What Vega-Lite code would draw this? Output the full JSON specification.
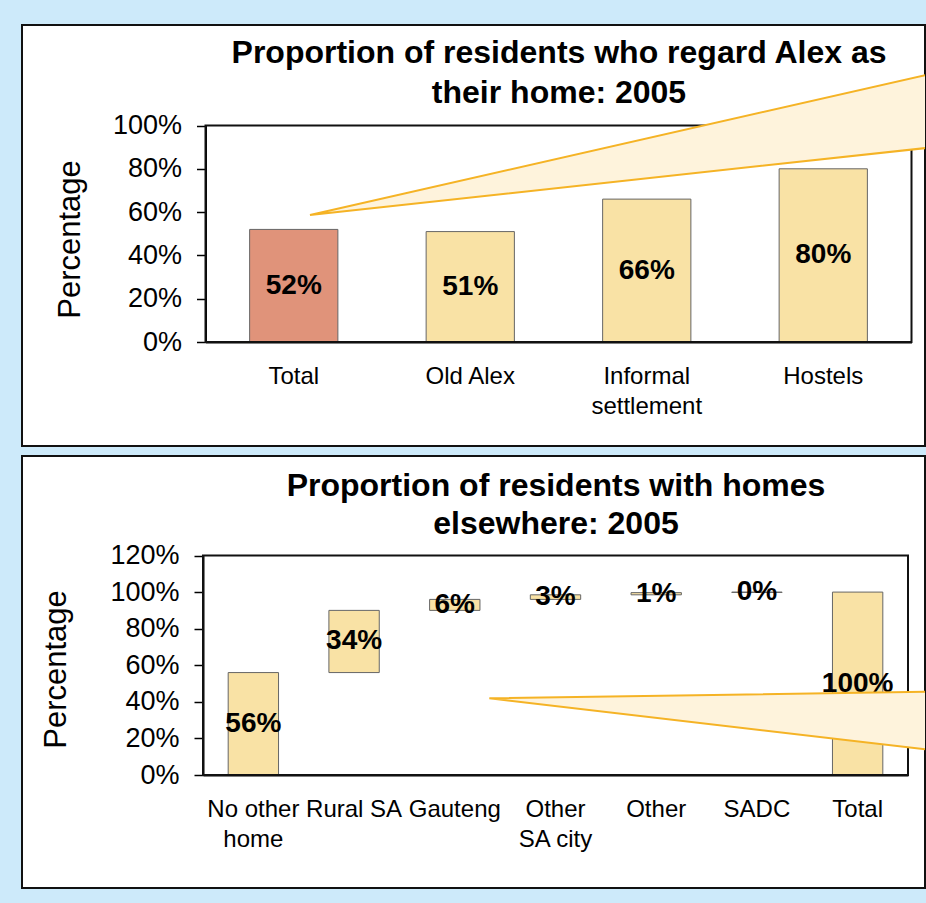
{
  "$schema": "https://vega.github.io/schema/vega-lite/v6.json",
  "background": "#cdeafa",
  "padding": {"left": 21, "top": 24, "right": 0, "bottom": 14},
  "spacing": 8,
  "config": {
    "view": {"fill": "white", "stroke": "#111111", "strokeWidth": 2},
    "font": "Liberation Sans",
    "axis": {
      "labelColor": "black", "domainColor": "black", "tickColor": "black", "titleColor": "black",
      "labelFont": "Liberation Sans", "titleFont": "Liberation Sans", "grid": false,
      "domainWidth": 2, "tickWidth": 1.5
    },
    "title": {"font": "Liberation Sans", "fontSize": 32, "fontWeight": "bold", "color": "black"}
  },
  "vconcat": [
    {
      "width": 903,
      "height": 421,
      "title": {
        "text": ["Proportion of residents who regard Alex as", "their home: 2005"],
        "anchor": "middle", "frame": "group", "offset": -37, "dx": 85.5, "dy": 73,
        "baseline": "alphabetic", "lineHeight": 40
      },
      "data": {"values": [
        {"area": "Total", "share": 0.52},
        {"area": "Old Alex", "share": 0.51},
        {"area": "Informal settlement", "share": 0.66},
        {"area": "Hostels", "share": 0.80}
      ]},
      "resolve": {"scale": {"x": "independent", "y": "independent"}},
      "layer": [
        {
          "mark": {"type": "bar", "stroke": "#666666", "strokeWidth": 1},
          "encoding": {
            "x": {
              "field": "area", "type": "nominal",
              "sort": ["Total", "Old Alex", "Informal settlement", "Hostels"],
              "scale": {"range": [183.5, 889.5], "paddingInner": 0.5, "paddingOuter": 0.25},
              "axis": {
                "orient": "bottom", "offset": -104, "ticks": false, "tickSize": 0,
                "labelPadding": 22, "labelFontSize": 24, "labelLineHeight": 30, "labelAngle": 0,
                "title": null,
                "labelExpr": "datum.label == 'Informal settlement' ? ['Informal', 'settlement'] : datum.label"
              }
            },
            "y": {
              "field": "share", "type": "quantitative",
              "scale": {"domain": [0, 1], "range": [317, 100.5], "nice": false},
              "axis": {
                "orient": "left", "offset": -183.5, "values": [0, 0.2, 0.4, 0.6, 0.8, 1],
                "format": ".0%", "labelFontSize": 27, "labelPadding": 15, "tickSize": 9,
                "title": "Percentage", "titleFontSize": 31, "titleFontWeight": "normal",
                "titleX": -119.5, "titleY": 214
              }
            },
            "color": {
              "condition": {"test": "datum.area === 'Total'", "value": "#E0937A"},
              "value": "#F9E2A5"
            }
          }
        },
        {
          "mark": {"type": "text", "fontSize": 28, "fontWeight": "bold", "baseline": "middle", "color": "black"},
          "encoding": {
            "x": {
              "field": "area", "type": "nominal",
              "sort": ["Total", "Old Alex", "Informal settlement", "Hostels"],
              "scale": {"range": [183.5, 889.5], "paddingInner": 0.5, "paddingOuter": 0.25},
              "axis": null
            },
            "y": {
              "field": "share", "type": "quantitative",
              "scale": {"domain": [0, 2], "range": [317, 100.5], "nice": false},
              "axis": null
            },
            "text": {"field": "share", "type": "quantitative", "format": ".0%"}
          }
        },
        {
          "data": {"values": [{}]},
          "mark": {"type": "rect", "fillOpacity": 0, "stroke": "#111111", "strokeWidth": 2},
          "encoding": {
            "x": {"datum": 0, "type": "quantitative", "scale": {"domain": [0, 4], "range": [183.5, 889.5], "nice": false, "zero": false}, "axis": null},
            "x2": {"datum": 4},
            "y": {"datum": 0, "type": "quantitative", "scale": {"domain": [0, 1], "range": [317, 100.5], "nice": false}, "axis": null},
            "y2": {"datum": 1}
          }
        },
        {
          "data": {"values": [
            {"cx": 0.592, "lo": 0.587, "hi": 0.587},
            {"cx": 4.082, "lo": 0.896, "hi": 1.233}
          ]},
          "mark": {"type": "area", "color": "#FEF3DC", "opacity": 1, "clip": true},
          "encoding": {
            "x": {"field": "cx", "type": "quantitative", "scale": {"domain": [0, 4], "range": [183.5, 889.5], "nice": false, "zero": false}, "axis": null},
            "y": {"field": "hi", "type": "quantitative", "scale": {"domain": [0, 1], "range": [317, 100.5], "nice": false}, "axis": null},
            "y2": {"field": "lo"}
          }
        },
        {
          "data": {"values": [
            {"cx": 4.082, "cy": 1.233, "o": 1},
            {"cx": 0.592, "cy": 0.587, "o": 2},
            {"cx": 4.082, "cy": 0.896, "o": 3}
          ]},
          "mark": {"type": "line", "color": "#F5B325", "strokeWidth": 2, "clip": true},
          "encoding": {
            "x": {"field": "cx", "type": "quantitative", "scale": {"domain": [0, 4], "range": [183.5, 889.5], "nice": false, "zero": false}, "axis": null},
            "y": {"field": "cy", "type": "quantitative", "scale": {"domain": [0, 1], "range": [317, 100.5], "nice": false}, "axis": null},
            "order": {"field": "o", "type": "quantitative"}
          }
        }
      ]
    },
    {
      "width": 903,
      "height": 432,
      "title": {
        "text": ["Proportion of residents with homes", "elsewhere: 2005"],
        "anchor": "middle", "frame": "group", "offset": -37, "dx": 82.5, "dy": 73,
        "baseline": "alphabetic", "lineHeight": 38
      },
      "data": {"values": [
        {"place": "No other home", "from": 0, "to": 0.56, "share": 0.56},
        {"place": "Rural SA", "from": 0.56, "to": 0.90, "share": 0.34},
        {"place": "Gauteng", "from": 0.90, "to": 0.96, "share": 0.06},
        {"place": "Other SA city", "from": 0.96, "to": 0.985, "share": 0.03},
        {"place": "Other", "from": 0.985, "to": 0.997, "share": 0.01},
        {"place": "SADC", "from": 0.998, "to": 1.0, "share": 0.0},
        {"place": "Total", "from": 0, "to": 1.0, "share": 1.0}
      ]},
      "resolve": {"scale": {"x": "independent", "y": "independent"}},
      "layer": [
        {
          "mark": {"type": "bar", "fill": "#F9E2A5", "stroke": "#666666", "strokeWidth": 1},
          "encoding": {
            "x": {
              "field": "place", "type": "nominal",
              "sort": ["No other home", "Rural SA", "Gauteng", "Other SA city", "Other", "SADC", "Total"],
              "scale": {"range": [181, 886], "paddingInner": 0.5, "paddingOuter": 0.25},
              "axis": {
                "orient": "bottom", "offset": -113, "ticks": false, "tickSize": 0,
                "labelPadding": 22, "labelFontSize": 24, "labelLineHeight": 30, "labelAngle": 0,
                "title": null,
                "labelExpr": "datum.label == 'No other home' ? ['No other', 'home'] : datum.label == 'Other SA city' ? ['Other', 'SA city'] : datum.label"
              }
            },
            "y": {
              "field": "to", "type": "quantitative",
              "scale": {"domain": [0, 1.2], "range": [319, 99.5], "nice": false, "zero": false},
              "axis": {
                "orient": "left", "offset": -181, "values": [0, 0.2, 0.4, 0.6, 0.8, 1, 1.2],
                "format": ".0%", "labelFontSize": 27, "labelPadding": 15, "tickSize": 9,
                "title": "Percentage", "titleFontSize": 31, "titleFontWeight": "normal",
                "titleX": -131, "titleY": 213
              }
            },
            "y2": {"field": "from"}
          }
        },
        {
          "transform": [{"fold": ["from", "to"], "as": ["bound", "level"]}],
          "mark": {"type": "text", "fontSize": 28, "fontWeight": "bold", "baseline": "middle", "color": "black"},
          "encoding": {
            "x": {
              "field": "place", "type": "nominal",
              "sort": ["No other home", "Rural SA", "Gauteng", "Other SA city", "Other", "SADC", "Total"],
              "scale": {"range": [181, 886], "paddingInner": 0.5, "paddingOuter": 0.25},
              "axis": null
            },
            "y": {
              "aggregate": "mean", "field": "level", "type": "quantitative",
              "scale": {"domain": [0, 1.2], "range": [319, 99.5], "nice": false, "zero": false},
              "axis": null
            },
            "text": {"field": "share", "type": "quantitative", "format": ".0%"}
          }
        },
        {
          "data": {"values": [{}]},
          "mark": {"type": "rect", "fillOpacity": 0, "stroke": "#111111", "strokeWidth": 2},
          "encoding": {
            "x": {"datum": 0, "type": "quantitative", "scale": {"domain": [0, 7], "range": [181, 886], "nice": false, "zero": false}, "axis": null},
            "x2": {"datum": 7},
            "y": {"datum": 0, "type": "quantitative", "scale": {"domain": [0, 1.2], "range": [319, 99.5], "nice": false}, "axis": null},
            "y2": {"datum": 1.2}
          }
        },
        {
          "data": {"values": [
            {"cx": 2.843, "lo": 0.419, "hi": 0.419},
            {"cx": 7.179, "lo": 0.1405, "hi": 0.455}
          ]},
          "mark": {"type": "area", "color": "#FEF3DC", "opacity": 1, "clip": true},
          "encoding": {
            "x": {"field": "cx", "type": "quantitative", "scale": {"domain": [0, 7], "range": [181, 886], "nice": false, "zero": false}, "axis": null},
            "y": {"field": "hi", "type": "quantitative", "scale": {"domain": [0, 1.2], "range": [319, 99.5], "nice": false}, "axis": null},
            "y2": {"field": "lo"}
          }
        },
        {
          "data": {"values": [
            {"cx": 7.179, "cy": 0.455, "o": 1},
            {"cx": 2.843, "cy": 0.419, "o": 2},
            {"cx": 7.179, "cy": 0.1405, "o": 3}
          ]},
          "mark": {"type": "line", "color": "#F5B325", "strokeWidth": 2, "clip": true},
          "encoding": {
            "x": {"field": "cx", "type": "quantitative", "scale": {"domain": [0, 7], "range": [181, 886], "nice": false, "zero": false}, "axis": null},
            "y": {"field": "cy", "type": "quantitative", "scale": {"domain": [0, 1.2], "range": [319, 99.5], "nice": false}, "axis": null},
            "order": {"field": "o", "type": "quantitative"}
          }
        }
      ]
    }
  ]
}
